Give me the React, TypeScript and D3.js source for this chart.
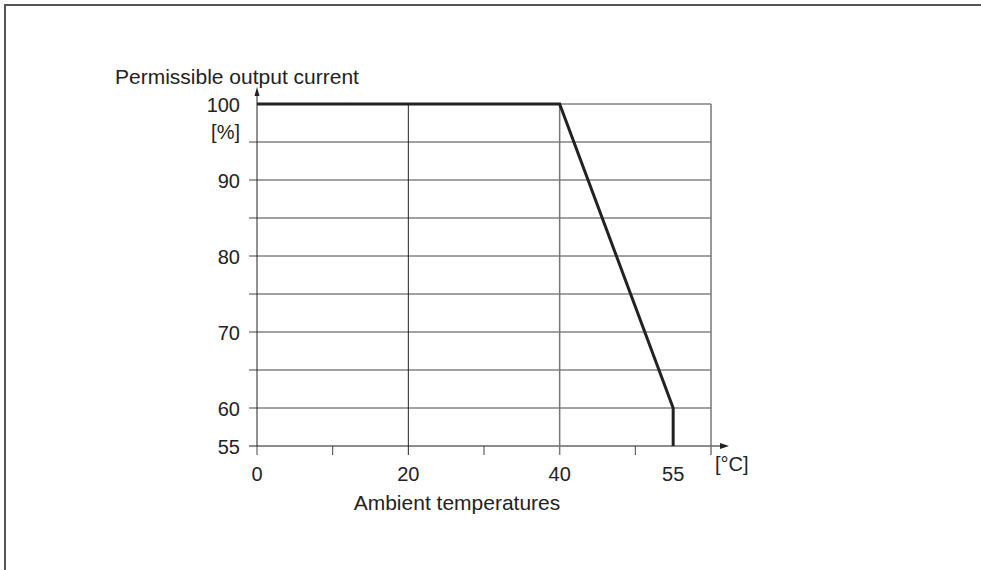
import React from "react";
import * as d3 from "d3";

const tempX = [0, 40, 55, 55];
const currentY = [100, 100, 60, 55];
const yGrid = [55, 60, 65, 70, 75, 80, 85, 90, 95, 100];
const yLabels = [
  { v: 100, t: "100" },
  { v: 90, t: "90" },
  { v: 80, t: "80" },
  { v: 70, t: "70" },
  { v: 60, t: "60" },
  { v: 55, t: "55" },
];
const xGridMajor = [20, 40, 60];
const xMinor = [0, 10, 30, 50];
const xLabels = [
  { v: 0, t: "0" },
  { v: 20, t: "20" },
  { v: 40, t: "40" },
  { v: 55, t: "55" },
];

export default function App() {
  const x = d3.scaleLinear().domain([0, 60]).range([257, 711]);
  const y = d3.scaleLinear().domain([55, 100]).range([446, 104]);
  const line = d3
    .line<number>()
    .x((_, i) => x(tempX[i]))
    .y((d) => y(d));
  const font = "'Liberation Sans', Arial, sans-serif";
  const fs = 20;
  const fsT = 21;
  const tc = "#222";
  return (
    <div style={{ position: "absolute", left: 0, top: 0 }}>
      <svg width={981} height={570} style={{ display: "block", background: "#fff" }} fontFamily={font}>
        <rect x={5} y={5} width={1000} height={600} fill="none" stroke="#555" strokeWidth={2} />
        {/* horizontal grid */}
        {yGrid.map((v) => (
          <line
            key={"h" + v}
            x1={v === 100 ? x(0) : x(0) - 8}
            x2={x(60)}
            y1={y(v)}
            y2={y(v)}
            stroke={v === 55 ? "#666" : "#444"}
            strokeWidth={v === 55 ? 1.5 : 1}
          />
        ))}
        {/* vertical grid */}
        {xGridMajor.map((v) => (
          <line
            key={"v" + v}
            x1={x(v)}
            x2={x(v)}
            y1={y(100)}
            y2={y(55) + 9}
            stroke={v === 20 ? "#222" : "#777"}
            strokeWidth={v === 20 ? 1 : 1.5}
          />
        ))}
        {xMinor.map((v) => (
          <line key={"m" + v} x1={x(v)} x2={x(v)} y1={y(55)} y2={y(55) + 9} stroke="#444" strokeWidth={1} />
        ))}
        {/* y axis with arrow */}
        <line x1={x(0)} x2={x(0)} y1={y(55)} y2={92} stroke="#222" strokeWidth={1} />
        <path d={`M${x(0) - 2.5},${96} L${x(0)},${87} L${x(0) + 2.5},${96} Z`} fill="#222" />
        {/* x axis with arrow */}
        <line x1={x(60)} x2={722} y1={y(55)} y2={y(55)} stroke="#666" strokeWidth={1.5} />
        <path d={`M${720},${y(55) - 3} L${729},${y(55)} L${720},${y(55) + 3} Z`} fill="#222" />
        {/* curve */}
        <path d={line(currentY) || ""} fill="none" stroke="#222" strokeWidth={3} strokeLinejoin="miter" />
        {/* y labels */}
        {yLabels.map((l) => (
          <text key={"yl" + l.v} x={240} y={y(l.v) + 8} textAnchor="end" fontSize={fs} fill={tc}>
            {l.t}
          </text>
        ))}
        <text x={240} y={139} textAnchor="end" fontSize={fs} fill={tc}>
          [%]
        </text>
        <text x={115} y={84} fontSize={fsT} fill={tc}>
          Permissible output current
        </text>
        {/* x labels */}
        {xLabels.map((l) => (
          <text key={"xl" + l.v} x={x(l.v)} y={481} textAnchor="middle" fontSize={fs} fill={tc}>
            {l.t}
          </text>
        ))}
        <text x={715} y={471} fontSize={fs} fill={tc}>
          [°C]
        </text>
        <text x={457} y={510} textAnchor="middle" fontSize={fsT} fill={tc}>
          Ambient temperatures
        </text>
      </svg>
    </div>
  );
}
